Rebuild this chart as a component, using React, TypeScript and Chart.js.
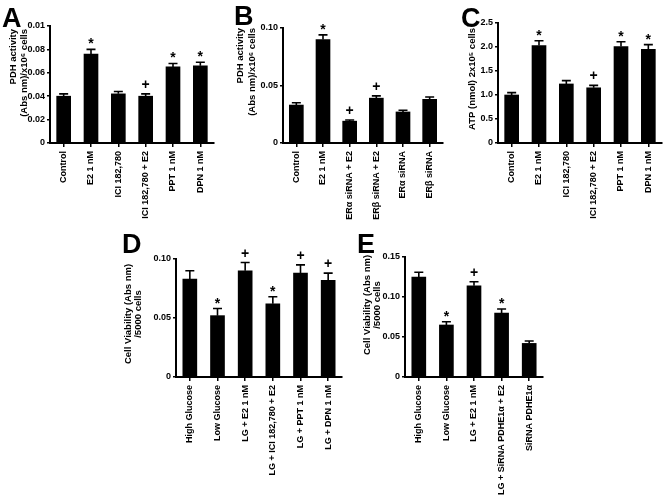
import React, { useEffect, useRef } from "react";
import { Chart, registerables } from "chart.js";

Chart.register(...registerables);

// ---------- DATA ----------
const catA = ["Control", "E2 1 nM", "ICI 182,780", "ICI 182,780 + E2", "PPT 1 nM", "DPN 1 nM"];
const valA = [0.040, 0.076, 0.042, 0.040, 0.065, 0.066];
const errA = [0.002, 0.004, 0.002, 0.002, 0.003, 0.003];
const sigA = ["", "*", "", "+", "*", "*"];
const tickValA = [0, 0.02, 0.04, 0.06, 0.08, 0.10];
const tickLabA = ["0", "0.02", "0.04", "0.06", "0.08", "0.01"];

const catB = ["Control", "E2 1 nM", "ERα siRNA + E2", "ERβ siRNA + E2", "ERα siRNA", "ERβ siRNA"];
const valB = [0.033, 0.090, 0.019, 0.039, 0.027, 0.038];
const errB = [0.002, 0.004, 0.001, 0.002, 0.0015, 0.002];
const sigB = ["", "*", "+", "+", "", ""];
const tickValB = [0, 0.05, 0.10];
const tickLabB = ["0", "0.05", "0.10"];

const catC = ["Control", "E2 1 nM", "ICI 182,780", "ICI 182,780 + E2", "PPT 1 nM", "DPN 1 nM"];
const valC = [1.0, 2.03, 1.23, 1.15, 2.01, 1.95];
const errC = [0.05, 0.1, 0.07, 0.05, 0.1, 0.1];
const sigC = ["", "*", "", "+", "*", "*"];
const tickValC = [0, 0.5, 1.0, 1.5, 2.0, 2.5];
const tickLabC = ["0", "0.5", "1.0", "1.5", "2.0", "2.5"];

const catD = ["High Glucose", "Low Glucose", "LG + E2 1 nM", "LG + ICI 182,780 + E2", "LG + PPT 1 nM", "LG + DPN 1 nM"];
const valD = [0.083, 0.052, 0.090, 0.062, 0.088, 0.082];
const errD = [0.007, 0.006, 0.007, 0.006, 0.007, 0.006];
const sigD = ["", "*", "+", "*", "+", "+"];
const tickValD = [0, 0.05, 0.10];
const tickLabD = ["0", "0.05", "0.10"];

const catE = ["High Glucose", "Low Glucose", "LG + E2 1 nM", "LG + SiRNA PDHE1α + E2", "SiRNA PDHE1α"];
const valE = [0.125, 0.065, 0.114, 0.080, 0.042];
const errE = [0.006, 0.004, 0.005, 0.005, 0.003];
const sigE = ["", "*", "+", "*", ""];
const tickValE = [0, 0.05, 0.10, 0.15];
const tickLabE = ["0", "0.05", "0.10", "0.15"];

// ---------- LAYOUT ----------
const FONT = "'Liberation Sans', Arial, Helvetica, sans-serif";

type Panel = {
  cats: string[]; vals: number[]; errs: number[]; sigs: string[];
  tickVals: number[]; tickLabels: string[];
  box: { left: number; top: number; w: number; h: number };
  area: { left: number; right: number; top: number; bottom: number };
  letter: { text: string; x: number; y: number };
  title: { lines: string[]; xs: number[]; y: number; align: "top" | "center" };
};

const panels: Panel[] = [
  {
    cats: catA, vals: valA, errs: errA, sigs: sigA, tickVals: tickValA, tickLabels: tickLabA,
    box: { left: 0, top: 0, w: 222, h: 232 },
    area: { left: 50, right: 214, top: 26, bottom: 143 },
    letter: { text: "A", x: 2, y: 27 },
    title: { lines: ["PDH activity", "(Abs nm)/x10⁶ cells"], xs: [13, 24], y: 29, align: "top" },
  },
  {
    cats: catB, vals: valB, errs: errB, sigs: sigB, tickVals: tickValB, tickLabels: tickLabB,
    box: { left: 222, top: 0, w: 226, h: 232 },
    area: { left: 283, right: 443, top: 28, bottom: 143 },
    letter: { text: "B", x: 234, y: 25 },
    title: { lines: ["PDH activity", "(Abs nm)/x10⁶ cells"], xs: [240, 252], y: 28, align: "top" },
  },
  {
    cats: catC, vals: valC, errs: errC, sigs: sigC, tickVals: tickValC, tickLabels: tickLabC,
    box: { left: 448, top: 0, w: 219, h: 232 },
    area: { left: 498, right: 662, top: 23, bottom: 143 },
    letter: { text: "C", x: 461, y: 27 },
    title: { lines: ["ATP (nmol) 2x10⁵ cells"], xs: [472], y: 28, align: "top" },
  },
  {
    cats: catD, vals: valD, errs: errD, sigs: sigD, tickVals: tickValD, tickLabels: tickLabD,
    box: { left: 95, top: 232, w: 250, h: 267 },
    area: { left: 176, right: 342, top: 259, bottom: 377 },
    letter: { text: "D", x: 122, y: 253 },
    title: { lines: ["Cell Viability (Abs nm)", "/5000 cells"], xs: [128, 138], y: 314, align: "center" },
  },
  {
    cats: catE, vals: valE, errs: errE, sigs: sigE, tickVals: tickValE, tickLabels: tickLabE,
    box: { left: 345, top: 232, w: 210, h: 267 },
    area: { left: 405, right: 543, top: 257, bottom: 377 },
    letter: { text: "E", x: 357, y: 253 },
    title: { lines: ["Cell Viability (Abs nm)", "/5000 cells"], xs: [367, 377], y: 305, align: "center" },
  },
];

function makeDecor(p: Panel) {
  return {
    id: "decor",
    afterDatasetsDraw(chart: any) {
      const ctx = chart.ctx;
      const meta = chart.getDatasetMeta(0);
      const ys = chart.scales.y;
      ctx.save();
      ctx.strokeStyle = "#000";
      ctx.fillStyle = "#000";
      ctx.lineWidth = 1.6;
      meta.data.forEach((el: any, i: number) => {
        const x = el.x;
        const yTop = el.y;
        const yErr = ys.getPixelForValue(p.vals[i] + p.errs[i]);
        ctx.beginPath();
        ctx.moveTo(x, yTop);
        ctx.lineTo(x, yErr);
        ctx.moveTo(x - 4.5, yErr);
        ctx.lineTo(x + 4.5, yErr);
        ctx.stroke();
        const s = p.sigs[i];
        if (s) {
          ctx.font = `bold 14px ${FONT}`;
          ctx.textAlign = "center";
          ctx.textBaseline = "alphabetic";
          if (s === "*") ctx.fillText(s, x, yErr - 1);
          else ctx.fillText(s, x, yErr - 5);
        }
      });
      ctx.restore();
    },
    afterDraw(chart: any) {
      const ctx = chart.ctx;
      const ox = p.box.left, oy = p.box.top;
      ctx.save();
      ctx.fillStyle = "#000";
      // panel letter
      ctx.font = `bold 27px ${FONT}`;
      ctx.textAlign = "left";
      ctx.textBaseline = "alphabetic";
      ctx.fillText(p.letter.text, p.letter.x - ox, p.letter.y - oy);
      // y title
      ctx.font = `bold 9.5px ${FONT}`;
      ctx.textBaseline = "middle";
      p.title.lines.forEach((line, i) => {
        ctx.save();
        ctx.translate(p.title.xs[i] - ox, p.title.y - oy);
        ctx.rotate(-Math.PI / 2);
        ctx.textAlign = p.title.align === "top" ? "right" : "center";
        ctx.fillText(line, 0, 0);
        ctx.restore();
      });
      ctx.restore();
    },
  };
}

function buildChart(canvas: HTMLCanvasElement, p: Panel) {
  const tickFont = { family: FONT, size: 9, weight: "bold" as const };
  return new Chart(canvas, {
    type: "bar",
    data: {
      labels: p.cats,
      datasets: [
        {
          data: p.vals,
          backgroundColor: "#000",
          borderWidth: 0,
          barThickness: 14,
        },
      ],
    },
    options: {
      responsive: false,
      animation: false,
      devicePixelRatio: 1,
      layout: {
        padding: {
          top: p.area.top - p.box.top,
          right: p.box.left + p.box.w - p.area.right,
          left: 0,
          bottom: 0,
        },
      },
      plugins: { legend: { display: false }, tooltip: { enabled: false }, title: { display: false } },
      scales: {
        x: {
          grid: { display: true, drawOnChartArea: false, drawTicks: true, tickLength: 4, color: "#000", lineWidth: 1.5, offset: false },
          border: { display: true, color: "#000", width: 2 },
          ticks: { color: "#000", font: tickFont, maxRotation: 90, minRotation: 90, autoSkip: false, padding: 4 },
          afterFit: (s: any) => {
            s.height = p.box.top + p.box.h - p.area.bottom;
          },
        },
        y: {
          min: 0,
          max: p.tickVals[p.tickVals.length - 1],
          grid: { display: true, drawOnChartArea: false, drawTicks: true, tickLength: 3, color: "#000", lineWidth: 1.5 },
          border: { display: true, color: "#000", width: 2 },
          ticks: {
            color: "#000",
            font: tickFont,
            padding: 2,
            callback: (_v: any, i: number) => p.tickLabels[i],
          },
          afterBuildTicks: (s: any) => {
            s.ticks = p.tickVals.map((v) => ({ value: v }));
          },
          afterFit: (s: any) => {
            s.width = p.area.left - p.box.left;
          },
        },
      },
    } as any,
    plugins: [makeDecor(p)],
  });
}

export default function App() {
  const refs = useRef<(HTMLCanvasElement | null)[]>([]);
  useEffect(() => {
    const charts = panels.map((p, i) => buildChart(refs.current[i] as HTMLCanvasElement, p));
    return () => charts.forEach((c) => c.destroy());
  }, []);
  return (
    <div style={{ position: "absolute", left: 0, top: 0, width: 667, height: 499, background: "#fff", overflow: "hidden" }}>
      {panels.map((p, i) => (
        <canvas
          key={i}
          ref={(el) => {
            refs.current[i] = el;
          }}
          width={p.box.w}
          height={p.box.h}
          style={{ position: "absolute", left: p.box.left, top: p.box.top, width: p.box.w, height: p.box.h }}
        />
      ))}
    </div>
  );
}
